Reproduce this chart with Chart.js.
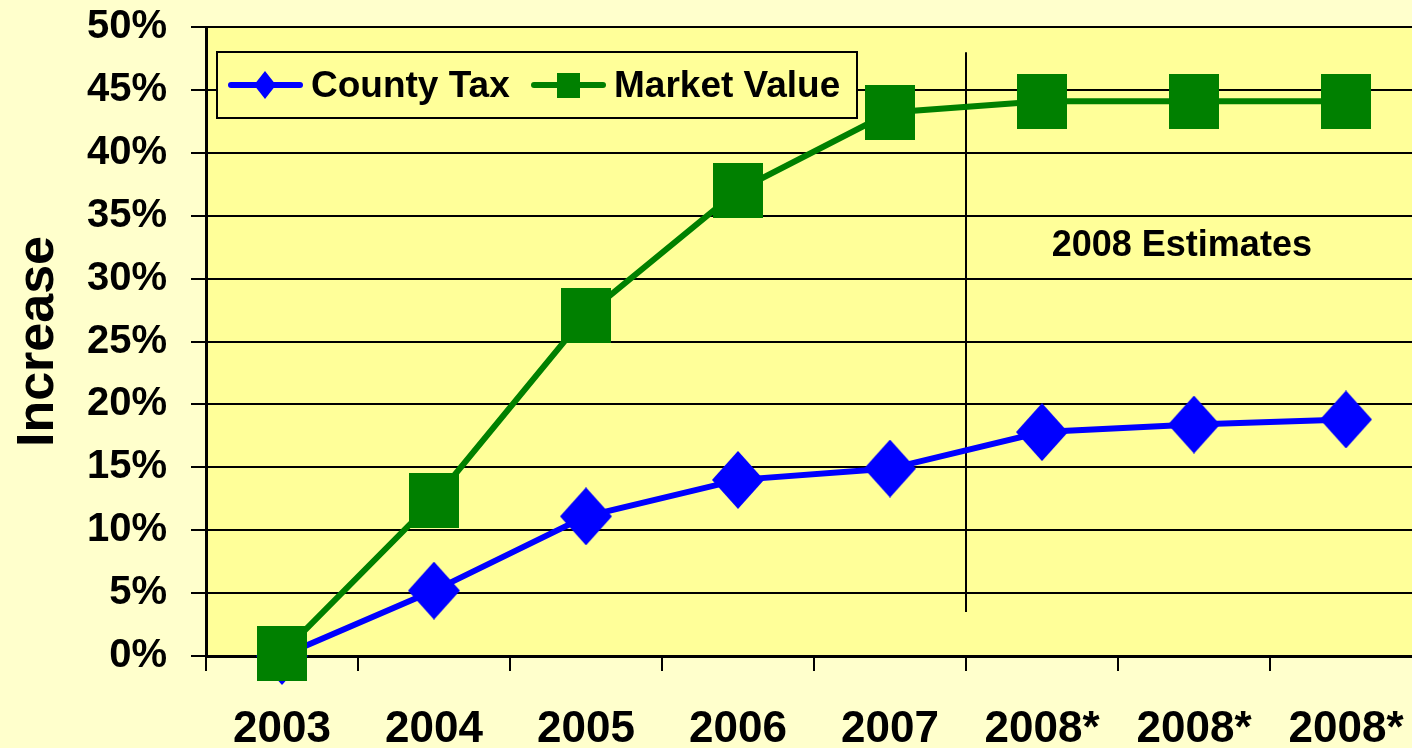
<!DOCTYPE html>
<html>
<head>
<meta charset="utf-8">
<script src="https://cdn.jsdelivr.net/npm/chart.js@4"></script>
<style>
  html, body { margin: 0; padding: 0; overflow: hidden; background: #FFFFCC; }
  #wrap { width: 1432px; height: 748px; }
</style>
</head>
<body>
<div id="wrap"><canvas id="chart"></canvas></div>
<script>
// data
var years = ['2003', '2004', '2005', '2006', '2007', '2008*', '2008*', '2008*'];
var countyTax = [0, 5.2, 11.1, 14.0, 14.9, 17.8, 18.4, 18.8];
var marketValue = [0.2, 12.4, 27.1, 37.0, 43.2, 44.1, 44.1, 44.1];
var yTicks = [0, 5, 10, 15, 20, 25, 30, 35, 40, 45, 50];

var FONT = '"Liberation Sans", Arial, sans-serif';
var BLUE = '#0000FF';
var GREEN = '#008000';

// marker images (slightly taller than wide, like the original)
function makeMarker(w, h, color, diamond) {
    var c = document.createElement('canvas');
    c.width = w; c.height = h;
    var g = c.getContext('2d');
    g.fillStyle = color;
    if (diamond) {
        g.beginPath();
        g.moveTo(w / 2, 0);
        g.lineTo(w, h / 2);
        g.lineTo(w / 2, h);
        g.lineTo(0, h / 2);
        g.closePath();
        g.fill();
    } else {
        g.fillRect(0, 0, w, h);
    }
    return c;
}
var diamondImg = makeMarker(52, 58, BLUE, true);
var squareImg = makeMarker(50, 55, GREEN, false);
var diamondSmall = makeMarker(22, 28, BLUE, true);
var squareSmall = makeMarker(23, 25, GREEN, false);

// plot background, divider and note
var decorPlugin = {
    id: 'decor',
    beforeDraw: function(chart) {
        var ctx = chart.ctx, a = chart.chartArea;
        ctx.save();
        ctx.fillStyle = '#FFFFCC';
        ctx.fillRect(0, 0, chart.width, chart.height);
        ctx.fillStyle = '#FFFF99';
        ctx.fillRect(a.left, a.top, a.right - a.left, a.bottom - a.top);
        ctx.restore();
    },
    beforeDatasetsDraw: function(chart) {
        var ctx = chart.ctx;
        var x = chart.scales.x, y = chart.scales.y;
        var xm = (x.getPixelForValue(4) + x.getPixelForValue(5)) / 2;
        ctx.save();
        ctx.strokeStyle = '#000';
        ctx.lineWidth = 2;
        ctx.beginPath();
        ctx.moveTo(xm, y.getPixelForValue(48));
        ctx.lineTo(xm, y.getPixelForValue(3.5));
        ctx.stroke();
        ctx.fillStyle = '#000';
        ctx.font = 'bold 36px ' + FONT;
        ctx.textAlign = 'center';
        ctx.textBaseline = 'middle';
        ctx.fillText('2008 Estimates', x.getPixelForValue(5.92), y.getPixelForValue(32.6));
        ctx.restore();
    },
    afterDraw: function(chart) {
        var ctx = chart.ctx, a = chart.chartArea;
        var bx = a.left + 11, by = a.top + 25, bw = 640, bh = 66;
        var cy = by + bh / 2;
        ctx.save();
        ctx.fillStyle = '#FFFF99';
        ctx.fillRect(bx, by, bw, bh);
        ctx.strokeStyle = '#000';
        ctx.lineWidth = 2;
        ctx.strokeRect(bx, by, bw, bh);
        var items = [
            {label: 'County Tax', color: BLUE, img: diamondSmall, x: bx + 11, w: 6},
            {label: 'Market Value', color: GREEN, img: squareSmall, x: bx + 314, w: 6}
        ];
        items.forEach(function(it) {
            ctx.strokeStyle = it.color;
            ctx.lineWidth = it.w;
            ctx.lineCap = 'round';
            ctx.beginPath();
            ctx.moveTo(it.x + 3, cy);
            ctx.lineTo(it.x + 72, cy);
            ctx.stroke();
            ctx.drawImage(it.img, it.x + 37 - it.img.width / 2, cy - it.img.height / 2);
            ctx.fillStyle = '#000';
            ctx.font = 'bold 37px ' + FONT;
            ctx.textAlign = 'left';
            ctx.textBaseline = 'middle';
            ctx.fillText(it.label, it.x + 83, cy + 2);
        });
        ctx.restore();
    }
};

new Chart(document.getElementById('chart'), {
    type: 'line',
    data: {
        labels: years,
        datasets: [{
            label: 'County Tax',
            data: countyTax,
            borderColor: BLUE,
            backgroundColor: BLUE,
            borderWidth: 6,
            pointStyle: diamondImg,
            tension: 0,
            clip: false,
            order: 2
        }, {
            label: 'Market Value',
            data: marketValue,
            borderColor: GREEN,
            backgroundColor: GREEN,
            borderWidth: 6,
            pointStyle: squareImg,
            tension: 0,
            clip: false,
            order: 1
        }]
    },
    options: {
        responsive: true,
        maintainAspectRatio: false,
        animation: false,
        layout: { padding: { top: 27, left: 0, right: 0, bottom: 0 } },
        plugins: {
            legend: { display: false },
            tooltip: { enabled: false }
        },
        scales: {
            x: {
                offset: true,
                afterFit: function(s) {
                    s.height = 92;
                    s.paddingLeft = 0;
                    s.paddingRight = 0;
                },
                grid: {
                    offset: true,
                    drawOnChartArea: false,
                    drawTicks: true,
                    tickLength: 15,
                    color: '#000',
                    lineWidth: 2
                },
                border: { display: true, color: '#000', width: 3 },
                ticks: {
                    color: '#000',
                    padding: 37,
                    maxRotation: 0,
                    autoSkip: false,
                    font: { family: FONT, size: 44, weight: 'bold', lineHeight: 1.0 }
                }
            },
            y: {
                min: 0,
                max: 50,
                afterFit: function(s) {
                    s.width = 206;
                    s.paddingTop = 0;
                    s.paddingBottom = 0;
                },
                afterBuildTicks: function(s) {
                    s.ticks = yTicks.map(function(v) { return {value: v}; });
                },
                grid: {
                    drawTicks: true,
                    tickLength: 15,
                    color: '#000',
                    lineWidth: 2
                },
                border: { display: true, color: '#000', width: 3 },
                ticks: {
                    color: '#000',
                    padding: 24,
                    font: { family: FONT, size: 40, weight: 'bold' },
                    callback: function(v) { return v + '%'; }
                },
                title: {
                    display: true,
                    text: 'Increase',
                    color: '#000',
                    padding: { top: 7, bottom: 0 },
                    font: { family: FONT, size: 52, weight: 'bold', lineHeight: 1.2 }
                }
            }
        }
    },
    plugins: [decorPlugin]
});
</script>
</body>
</html>
